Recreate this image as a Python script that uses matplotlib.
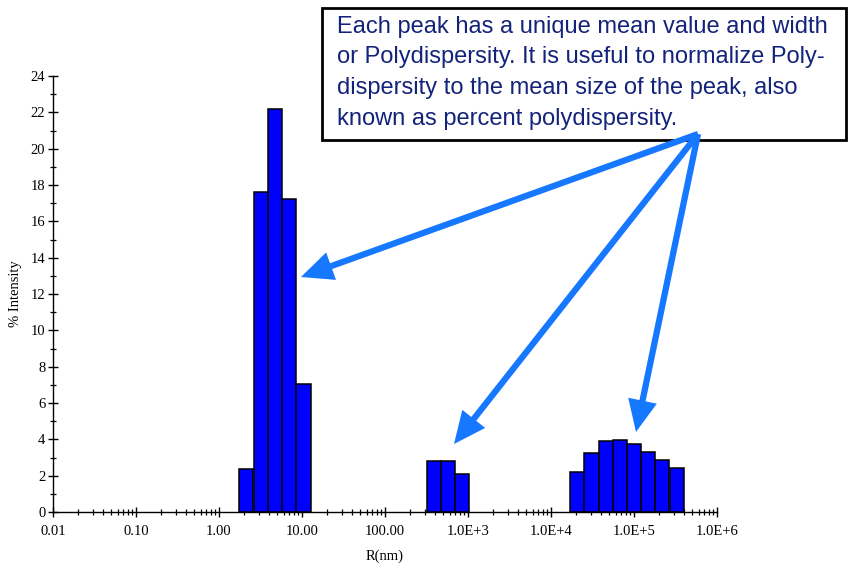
import numpy as np
import matplotlib
matplotlib.use("Agg")
import matplotlib.pyplot as plt
from matplotlib.patches import Rectangle, FancyArrowPatch
from matplotlib.ticker import FixedLocator, LogLocator, NullFormatter, MultipleLocator

# bin centres (nm) and % intensity for the three peaks
radius_peak1 = [2.13, 3.19, 4.77, 7.03, 10.4]
intensity_peak1 = [2.35, 17.6, 22.2, 17.25, 7.05]

radius_peak2 = [386, 571, 846]
intensity_peak2 = [2.8, 2.8, 2.07]

radius_peak3 = [20650, 30700, 45700, 67600, 100000, 148000, 219000, 331000]
intensity_peak3 = [2.2, 3.25, 3.9, 3.96, 3.72, 3.32, 2.86, 2.4]

bin_decades = 0.171  # log-width of each bin

x_tick_values = [0.01, 0.1, 1, 10, 100, 1e3, 1e4, 1e5, 1e6]
x_tick_labels = ["0.01", "0.10", "1.00", "10.00", "100.00",
                 "1.0E+3", "1.0E+4", "1.0E+5", "1.0E+6"]

note = ("Each peak has a unique mean value and width\n"
        "or Polydispersity. It is useful to normalize Poly-\n"
        "dispersity to the mean size of the peak, also\n"
        "known as percent polydispersity.")

W, H = 848, 565
fig = plt.figure(figsize=(W / 100, H / 100), dpi=100)
ax = fig.add_axes([53 / W, (H - 512) / H, (717 - 53) / W, (512 - 76) / H])

radius = np.array(radius_peak1 + radius_peak2 + radius_peak3, dtype=float)
intensity = np.array(intensity_peak1 + intensity_peak2 + intensity_peak3)
half = 10 ** (bin_decades / 2)
left = radius / half
right = radius * half
ax.bar(left, intensity, width=right - left, align="edge",
       color="#0000ff", edgecolor="black", linewidth=1.1, zorder=2)

ax.set_xscale("log")
ax.set_xlim(0.01, 1e6)
ax.set_ylim(0, 24)
ax.xaxis.set_major_locator(FixedLocator(x_tick_values))
ax.set_xticklabels(x_tick_labels)
ax.xaxis.set_minor_locator(LogLocator(base=10, subs=np.arange(2, 10), numticks=20))
ax.xaxis.set_minor_formatter(NullFormatter())
ax.yaxis.set_major_locator(MultipleLocator(2))
ax.yaxis.set_minor_locator(MultipleLocator(1))

for s in ("top", "right"):
    ax.spines[s].set_visible(False)
for s in ("left", "bottom"):
    ax.spines[s].set_linewidth(1.0)

serif = "Liberation Serif"
ax.tick_params(which="major", direction="inout", length=7, width=1.0,
               labelsize=10.5, pad=2)
ax.tick_params(axis="x", which="major", pad=6)
ax.tick_params(which="minor", direction="inout", length=5, width=0.9)
for lab in ax.get_xticklabels() + ax.get_yticklabels():
    lab.set_fontfamily(serif)

ax.set_xlabel("R(nm)", fontfamily=serif, fontsize=10.5, labelpad=8)
ax.set_ylabel("% Intensity", fontfamily=serif, fontsize=10.5, labelpad=6)

# annotation box
fig.patches.append(Rectangle((322 / W, (H - 140) / H), 524 / W, 132 / H,
                             transform=fig.transFigure, facecolor="white",
                             edgecolor="black", linewidth=2, zorder=5))
fig.text(337 / W, (H - 16) / H, note, ha="left", va="top",
         fontfamily="Liberation Sans", fontsize=17, color="#14237a",
         linespacing=1.5, zorder=6)

# arrows from the box to each peak
start = (698, 134)
tips = [(301, 277), (454, 444), (636, 432)]
for tx, ty in tips:
    arr = FancyArrowPatch((start[0], H - start[1]), (tx, H - ty),
                          transform=None,
                          arrowstyle="simple,head_length=23,head_width=21,tail_width=4.5",
                          facecolor="#1677ff", edgecolor="none", linewidth=0,
                          shrinkA=0, shrinkB=0, zorder=7)
    fig.patches.append(arr)

fig.savefig("out.png", dpi=100)
